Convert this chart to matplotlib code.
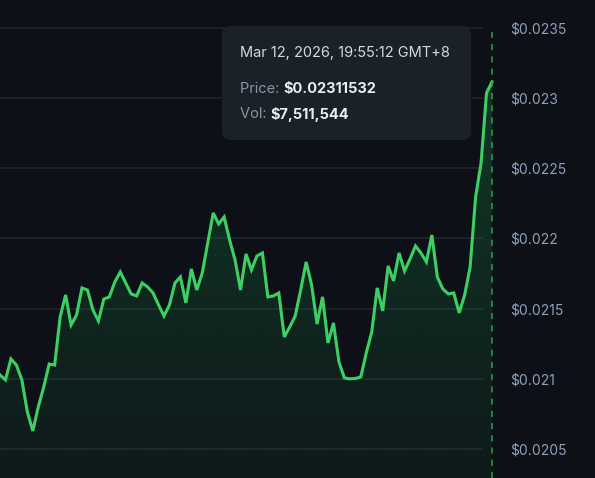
import numpy as np
import matplotlib
matplotlib.use("Agg")
import matplotlib.pyplot as plt
from matplotlib.patches import FancyBboxPatch
from matplotlib.colors import to_rgb

plt.rcParams["font.family"] = ["Inter", "DejaVu Sans"]

# price samples (oldest -> newest)
prices = [
    0.021027, 0.020992, 0.021141, 0.021098, 0.020992, 0.020764, 0.020628, 0.020799,
    0.020942, 0.021105, 0.021098, 0.021440, 0.021597, 0.021383, 0.021454, 0.021647,
    0.021632, 0.021490, 0.021412, 0.021568, 0.021583, 0.021689, 0.021761, 0.021682,
    0.021604, 0.021590, 0.021682, 0.021654, 0.021611, 0.021526, 0.021447, 0.021526,
    0.021682, 0.021725, 0.021540, 0.021782, 0.021632, 0.021754, 0.021967, 0.022181,
    0.022103, 0.022152, 0.021989, 0.021846, 0.021632, 0.021889, 0.021775, 0.021875,
    0.021896, 0.021583, 0.021590, 0.021611, 0.021298, 0.021369, 0.021447, 0.021632,
    0.021832, 0.021668, 0.021390, 0.021583, 0.021255, 0.021397, 0.021120, 0.021006,
    0.020999, 0.021002, 0.021013, 0.021184, 0.021333, 0.021647, 0.021483, 0.021803,
    0.021697, 0.021896, 0.021768, 0.021853, 0.021946, 0.021896, 0.021832, 0.022024,
    0.021725, 0.021640, 0.021604, 0.021611, 0.021469, 0.021597, 0.021796, 0.022295,
    0.022537, 0.023036, 0.02311532,
]
y_ticks = [0.0205, 0.021, 0.0215, 0.022, 0.0225, 0.023, 0.0235]
y_labels = ["$0.0205", "$0.021", "$0.0215", "$0.022", "$0.0225", "$0.023", "$0.0235"]

tip_date = "Mar 12, 2026, 19:55:12 GMT+8"
tip_price = "$0.02311532"
tip_vol = "$7,511,544"

BG = "#0d1117"
GREEN = "#3dcf63"
GRID = "#1f252d"
LABEL = "#8ea2bd"

W, H = 595, 478
fig = plt.figure(figsize=(W / 100, H / 100), dpi=100, facecolor=BG)
ax = fig.add_axes([0, 0, 492 / W, 1])
ax.set_facecolor(BG)

x = np.arange(len(prices))
ymin, ymax = 0.020293, 0.023698
ax.set_xlim(0, len(prices) - 1)
ax.set_ylim(ymin, ymax)

for t in y_ticks:
    ax.axhline(t, xmin=0, xmax=0.98, color=GRID, lw=1.2, zorder=1)

# gradient fill under the line
poly = ax.fill_between(x, prices, ymin, color="none", lw=0)
g = np.linspace(0, 1, 256)[:, None]
rgb = np.array(to_rgb("#22c55e"))
img = np.zeros((256, 1, 4))
img[..., :3] = rgb
img[..., 3] = 0.05 + 0.17 * g
grad = ax.imshow(img, extent=[0, len(prices) - 1, ymin, 0.0232], origin="lower",
                 aspect="auto", zorder=2, interpolation="bilinear")
path = poly.get_paths()[0]
grad.set_clip_path(path, transform=ax.transData)
ax.set_ylim(ymin, ymax)

# faint dot texture inside the fill
dx = np.arange(0.9, len(prices), 10 / 5.47)
dy = np.arange(ymin + 0.00002, ymax, 10 * 0.0005 / 70.2)
DX, DY = np.meshgrid(dx, dy)
dots = ax.scatter(DX.ravel(), DY.ravel(), s=2.5, color="#22c55e", alpha=0.07,
                  lw=0, zorder=3)
dots.set_clip_path(path, transform=ax.transData)

ax.plot(x, prices, color=GREEN, lw=2.2, zorder=4, clip_on=False,
        solid_joinstyle="miter")

# crosshair at the hovered point
ax.vlines(x[-1], ymin, 0.0235, colors="#27a34a", linestyles=(0, (4, 4)),
          lw=1.1, zorder=5, clip_on=False)

ax.yaxis.tick_right()
ax.set_yticks(y_ticks)
ax.set_yticklabels(y_labels)
ax.tick_params(axis="y", length=0, pad=13, labelsize=10, labelcolor=LABEL)
ax.set_xticks([])
for s in ax.spines.values():
    s.set_visible(False)

# tooltip overlay in pixel space
ov = fig.add_axes([0, 0, 1, 1], facecolor="none")
ov.set_xlim(0, W)
ov.set_ylim(H, 0)
ov.axis("off")
box = FancyBboxPatch((222, 26), 249, 114, boxstyle="round,pad=0,rounding_size=9",
                     fc="#1b2129", ec="none", zorder=6)
ov.add_patch(box)
fs = 10.5
ov.text(240, 53, tip_date, color="#d3d9e0", fontsize=fs, va="center", zorder=7)
t1 = ov.text(240, 89, "Price: ", color="#8b949e", fontsize=fs, va="center", zorder=7)
ov.annotate(tip_price, xycoords=t1, xy=(1, 0.5), va="center", color="#e6edf3",
            fontsize=fs, fontweight="bold", zorder=7)
t2 = ov.text(240, 114, "Vol: ", color="#8b949e", fontsize=fs, va="center", zorder=7)
ov.annotate(tip_vol, xycoords=t2, xy=(1, 0.5), va="center", color="#e6edf3",
            fontsize=fs, fontweight="bold", zorder=7)

fig.savefig("out.png", dpi=100, facecolor=BG)
